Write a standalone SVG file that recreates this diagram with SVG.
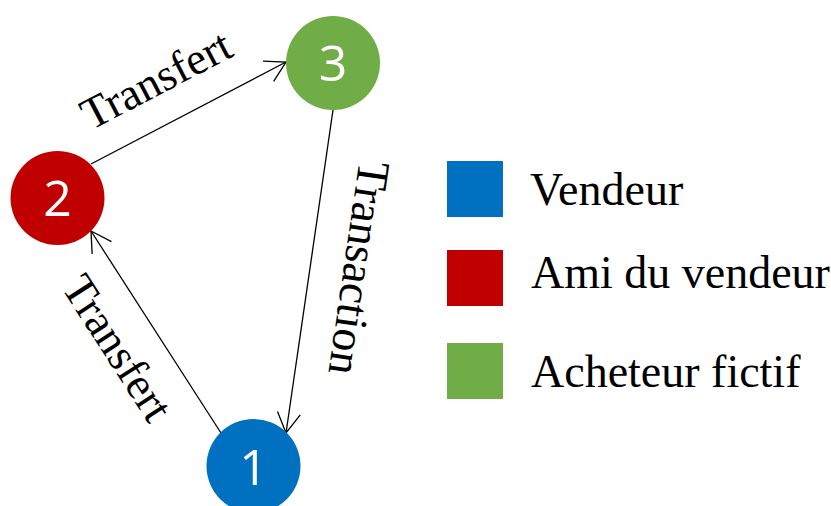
<svg xmlns="http://www.w3.org/2000/svg" width="831" height="506" viewBox="0 0 831 506">
  <style>
    .num { font-family: "Open Sans", "Liberation Sans", sans-serif; font-size: 50px; fill: #ffffff; text-anchor: middle; }
    .lbl { font-family: "Liberation Serif", "Times New Roman", serif; font-size: 45px; fill: #000000; }
    .leg { font-size: 46px; }
    .edge { stroke: #000000; stroke-width: 1.3; fill: none; marker-end: url(#arrow); }
  </style>
  <defs>
    <marker id="arrow" markerUnits="userSpaceOnUse" markerWidth="30" markerHeight="30" viewBox="-25 -15 30 30" refX="0" refY="0" orient="auto" overflow="visible">
      <path d="M-20,-11.5 L0,0 L-20,11.5" fill="none" stroke="#000000" stroke-width="1.3"/>
    </marker>
  </defs>
  <rect width="831" height="506" fill="#ffffff"/>
  <g id="connectors">
    <line class="edge" x1="91" y1="164" x2="286" y2="62"/>
    <line class="edge" x1="333" y1="110" x2="286" y2="433"/>
    <line class="edge" x1="221" y1="433" x2="91" y2="231"/>
    <text class="lbl" text-anchor="middle" transform="translate(163,93) rotate(-27.6)">Transfert</text>
    <text class="lbl" text-anchor="middle" style="font-size:46px" transform="translate(344,266) rotate(98.3)">Transaction</text>
    <text class="lbl" text-anchor="middle" transform="translate(105,356) rotate(57.2)">Transfert</text>
  </g>
  <g id="node3">
    <circle cx="333" cy="63" r="47" fill="#70AD47"/>
    <text class="num" x="333" y="81">3</text>
  </g>
  <g id="node2">
    <circle cx="57.5" cy="198" r="47" fill="#C00000"/>
    <text class="num" x="57.5" y="216">2</text>
  </g>
  <g id="node1">
    <circle cx="253.5" cy="466" r="47" fill="#0070C0"/>
    <text class="num" x="253.5" y="485">1</text>
  </g>
  <g id="legend">
    <rect x="447" y="161" width="56" height="56" fill="#0070C0"/>
    <text class="lbl leg" x="530" y="205">Vendeur</text>
    <rect x="447" y="250" width="56" height="56" fill="#C00000"/>
    <text class="lbl leg" x="531" y="288">Ami du vendeur</text>
    <rect x="447" y="343" width="56" height="56" fill="#70AD47"/>
    <text class="lbl leg" x="531" y="387">Acheteur fictif</text>
  </g>
</svg>
